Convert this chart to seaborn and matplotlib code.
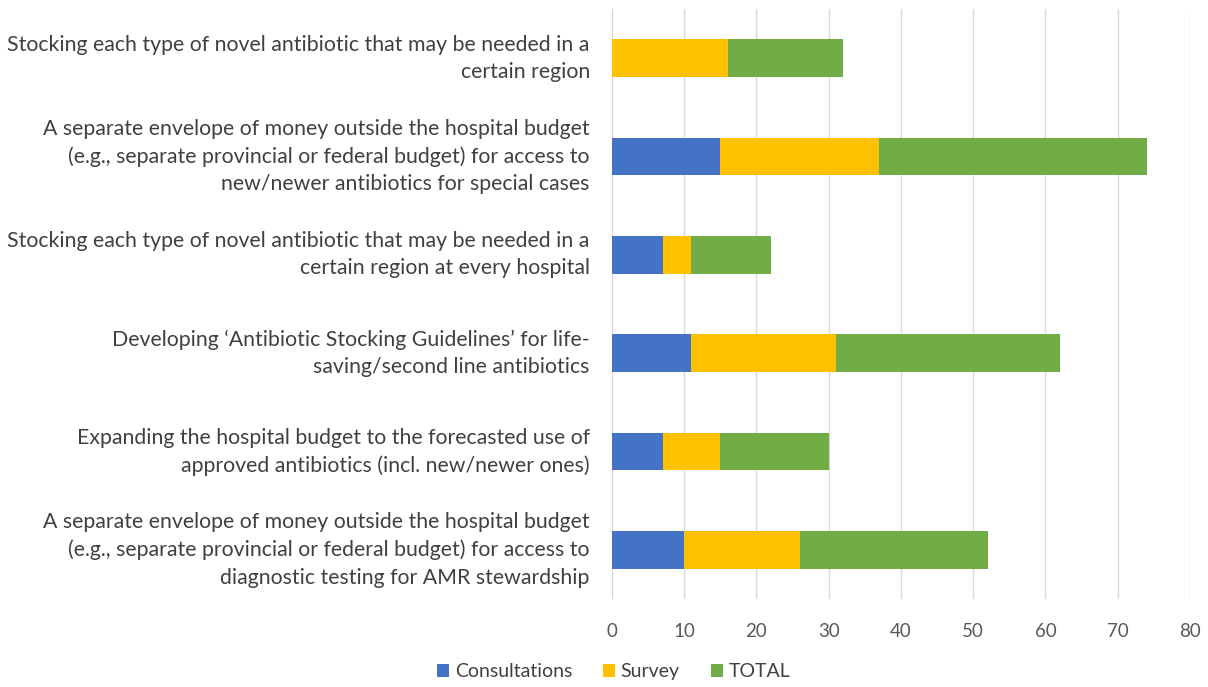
import matplotlib
matplotlib.use("Agg")
import matplotlib.pyplot as plt
import seaborn as sns
import pandas as pd
from matplotlib.patches import Patch

categories = [
    "Stocking each type of novel antibiotic that may be needed in a\ncertain region",
    "A separate envelope of money outside the hospital budget\n(e.g., separate provincial or federal budget) for access to\nnew/newer antibiotics for special cases",
    "Stocking each type of novel antibiotic that may be needed in a\ncertain region at every hospital",
    "Developing \u2018Antibiotic Stocking Guidelines\u2019 for life-\nsaving/second line antibiotics",
    "Expanding the hospital budget to the forecasted use of\napproved antibiotics (incl. new/newer ones)",
    "A separate envelope of money outside the hospital budget\n(e.g., separate provincial or federal budget) for access to\ndiagnostic testing for AMR stewardship",
]
consultations = [0, 15, 7, 11, 7, 10]
survey = [16, 22, 4, 20, 8, 16]
total = [16, 37, 11, 31, 15, 26]

series_names = ["Consultations", "Survey", "TOTAL"]
colors = ["#4472C4", "#FFC000", "#70AD47"]

sns.set_theme(style="white")
plt.rcParams["font.family"] = ["Lato", "DejaVu Sans"]

df = pd.DataFrame({
    "category": categories,
    "Consultations": consultations,
    "Survey": survey,
    "TOTAL": total,
})
df["end_cons"] = df["Consultations"]
df["end_survey"] = df["end_cons"] + df["Survey"]
df["end_total"] = df["end_survey"] + df["TOTAL"]

fig = plt.figure(figsize=(12.08, 6.87), dpi=100)
ax = fig.add_axes([0.5066, 0.128, 0.4785, 0.859])

# stacked segments: draw the cumulative ends from longest to shortest
for col, color in zip(["end_total", "end_survey", "end_cons"], colors[::-1]):
    sns.barplot(data=df, x=col, y="category", orient="h", color=color,
                width=0.38, ax=ax, saturation=1, linewidth=0)

ax.set_xlim(0, 80)
ax.set_xticks(range(0, 81, 10))
ax.set_ylim(5.5, -0.5)
ax.set_xlabel("")
ax.set_ylabel("")
ax.grid(axis="x", color="#D9D9D9", linewidth=1)
ax.set_axisbelow(True)
for s in ax.spines.values():
    s.set_visible(False)
ax.tick_params(axis="x", length=0, pad=17, labelsize=13.5, colors="#595959")
ax.tick_params(axis="y", length=0, pad=16, labelsize=15.3, colors="#404040")
for lbl in ax.get_yticklabels():
    lbl.set_horizontalalignment("right")
    lbl.set_verticalalignment("center")
    lbl.set_multialignment("right")
    lbl.set_linespacing(1.45)

handles = [Patch(facecolor=c, edgecolor="none") for c in colors]
fig.legend(handles, series_names, loc="center", bbox_to_anchor=(0.508, 0.022),
           ncol=3, frameon=False, fontsize=14, handlelength=0.6,
           handleheight=0.6, handletextpad=0.3, columnspacing=1.6,
           labelcolor="#404040")

fig.savefig("out.png", dpi=100, facecolor="white")
